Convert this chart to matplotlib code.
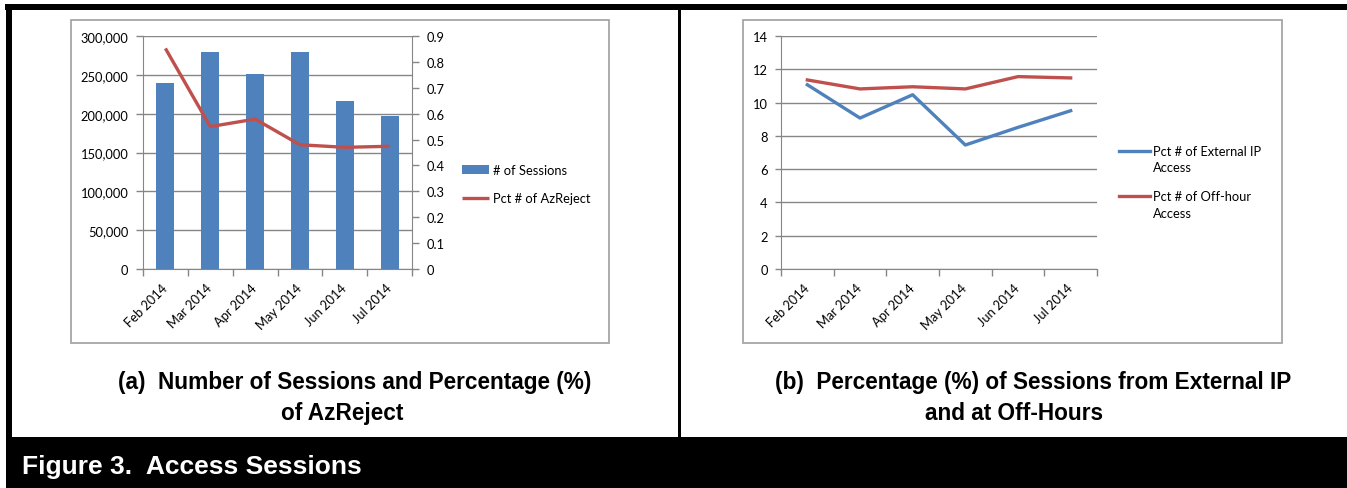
import numpy as np
import matplotlib
matplotlib.use('Agg')
import matplotlib.pyplot as plt
from matplotlib.patches import Rectangle

# ---------------- data ----------------
months = ['Feb 2014', 'Mar 2014', 'Apr 2014', 'May 2014', 'Jun 2014', 'Jul 2014']
sessions = [240000, 280000, 251000, 280000, 216500, 197500]
pct_azreject = [0.852, 0.550, 0.579, 0.480, 0.470, 0.474]
pct_external_ip = [11.07, 9.07, 10.47, 7.45, 8.51, 9.51]
pct_off_hour = [11.36, 10.82, 10.95, 10.82, 11.56, 11.48]

left_ticks_a = [0, 50000, 100000, 150000, 200000, 250000, 300000]
right_ticks_a = [0, 0.1, 0.2, 0.3, 0.4, 0.5, 0.6, 0.7, 0.8, 0.9]
ticks_b = [0, 2, 4, 6, 8, 10, 12, 14]

# ---------------- style ----------------
BLUE = '#4F81BD'
RED = '#C0504D'
GRID = '#868686'
FRAME = '#a6a6a6'
TICKFONT = ['Lato', 'DejaVu Sans']
TICKSIZE = 9.3
CAPFONT = ['Liberation Sans', 'DejaVu Sans']

W, H = 1347, 489
fig = plt.figure(figsize=(W / 100, H / 100), dpi=100)
fig.patch.set_facecolor('white')


def fx(x):
    return x / W


def fy(y):
    return 1 - y / H


def rect_px(x0, y0, x1, y1, **kw):
    fig.add_artist(Rectangle((fx(x0), fy(y1)), fx(x1) - fx(x0), fy(y0) - fy(y1),
                             transform=fig.transFigure, **kw))


# black page decorations
rect_px(5, 5, 1347, 11, color='black', lw=0)
rect_px(6, 5, 12, 489, color='black', lw=0)
rect_px(6, 438, 1347, 489, color='black', lw=0)
rect_px(678, 11, 681, 438, color='black', lw=0)

# chart frames
rect_px(71, 21, 609, 344, fill=False, ec=FRAME, lw=1.3)
rect_px(743, 21, 1282, 344, fill=False, ec=FRAME, lw=1.3)


def style_axis(ax):
    ax.set_facecolor('none')
    ax.set_xlim(-0.5, len(months) - 0.5)
    ax.set_xticks(np.arange(-0.5, len(months), 1.0))
    ax.set_xticklabels([])
    ax.set_xticks(np.arange(len(months)), minor=True)
    ax.set_xticklabels(months, minor=True, rotation=45, ha='right', va='center',
                       rotation_mode='anchor', fontsize=TICKSIZE, family=TICKFONT)
    ax.tick_params(axis='x', which='major', length=5, width=1, color=GRID, direction='out')
    ax.tick_params(axis='x', which='minor', length=0, pad=12)
    ax.tick_params(axis='y', length=5, width=1, color=GRID, direction='out', pad=5.5,
                   labelsize=TICKSIZE)
    for lab in ax.get_yticklabels():
        lab.set_family(TICKFONT)
    ax.spines['top'].set_visible(False)
    ax.spines['right'].set_visible(False)
    ax.spines['left'].set_color(GRID)
    ax.spines['bottom'].set_color(GRID)
    ax.grid(axis='y', color=GRID, lw=1)
    ax.set_axisbelow(True)


# ---------------- chart (a) ----------------
ax = fig.add_axes([fx(143), fy(270), fx(412) - fx(143), fy(37) - fy(270)])
x = np.arange(len(months))
ax.bar(x, sessions, width=0.4, color=BLUE, label='# of Sessions', zorder=2)
ax.set_ylim(0, 300000)
ax.set_yticks(left_ticks_a)
ax.set_yticklabels([f'{v:,}' for v in left_ticks_a])
style_axis(ax)

ax2 = ax.twinx()
ax2.plot(x, pct_azreject, color=RED, lw=2.4, label='Pct # of AzReject',
         solid_capstyle='butt', solid_joinstyle='round')
ax2.set_ylim(0, 0.9)
ax2.set_yticks(right_ticks_a)
ax2.set_yticklabels(['0' if v == 0 else f'{v:g}' for v in right_ticks_a],
                    fontsize=TICKSIZE, family=TICKFONT)
ax2.tick_params(axis='y', length=5, width=1, color=GRID, direction='out', pad=5.5)
for s in ['top', 'left', 'bottom']:
    ax2.spines[s].set_visible(False)
ax2.spines['right'].set_color(GRID)

h1, l1 = ax.get_legend_handles_labels()
h2, l2 = ax2.get_legend_handles_labels()
leg_a = fig.legend(h1 + h2, l1 + l2, loc='upper left',
                   bbox_to_anchor=(fx(462), fy(165)), frameon=False,
                   prop={'family': TICKFONT, 'size': TICKSIZE},
                   handlelength=2.1, handleheight=0.7, handletextpad=0.3,
                   labelspacing=1.25, borderpad=0, borderaxespad=0)

# ---------------- chart (b) ----------------
bx = fig.add_axes([fx(781), fy(270), fx(1097) - fx(781), fy(37) - fy(270)])
bx.plot(x, pct_external_ip, color=BLUE, lw=2.4, label='Pct # of External IP\nAccess',
        solid_joinstyle='round')
bx.plot(x, pct_off_hour, color=RED, lw=2.4, label='Pct # of Off-hour\nAccess',
        solid_joinstyle='round')
bx.set_ylim(0, 14)
bx.set_yticks(ticks_b)
bx.set_yticklabels([str(v) for v in ticks_b])
style_axis(bx)
bx.tick_params(axis='y', length=4)

leg_b = fig.legend(*bx.get_legend_handles_labels(), loc='upper left',
                   bbox_to_anchor=(fx(1119), fy(146)), frameon=False,
                   prop={'family': TICKFONT, 'size': TICKSIZE},
                   handlelength=2.4, handletextpad=0.25, labelspacing=1.3,
                   borderpad=0, borderaxespad=0)
for t in leg_b.get_texts():
    t.set_linespacing(1.45)
for hnd in leg_b.legend_handles:
    hnd.set_ydata(np.asarray(hnd.get_ydata(), dtype=float) + 6.5)

# ---------------- captions ----------------
capkw = dict(ha='center', va='baseline', fontsize=16.3, fontweight='bold', family=CAPFONT,
             color='black')
fig.text(fx(355), fy(389), '(a)  Number of Sessions and Percentage (%)', **capkw)
fig.text(fx(342), fy(420), 'of AzReject', **capkw)
fig.text(fx(1033), fy(389), '(b)  Percentage (%) of Sessions from External IP', **capkw)
fig.text(fx(1014), fy(420), 'and at Off-Hours', **capkw)

fig.text(fx(22), fy(474), 'Figure 3.  Access Sessions', ha='left', va='baseline',
         fontsize=19, fontweight='bold', family=CAPFONT, color='white')

fig.savefig('out.png', dpi=100, facecolor='white')
